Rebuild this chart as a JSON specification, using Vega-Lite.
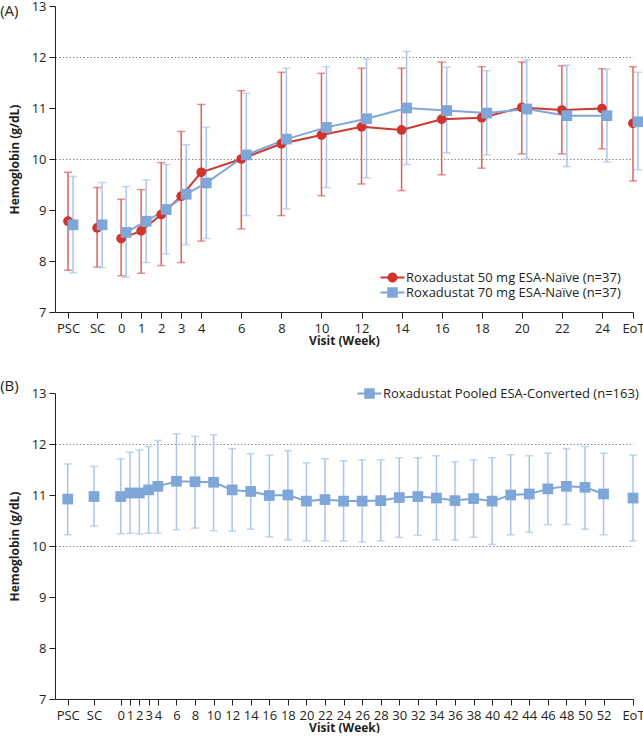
{
  "$schema": "https://vega.github.io/schema/vega-lite/v6.json",
  "padding": {"left": 0, "top": 0, "right": 0, "bottom": 0},
  "spacing": 33,
  "resolve": {"scale": {"color": "independent", "shape": "independent"}, "legend": {"color": "independent", "shape": "independent"}},
  "config": {
    "font": "Open Sans",
    "view": {"stroke": null},
    "axis": {"labelFont": "Open Sans", "labelFontSize": 13, "labelColor": "#231f20", "titleFont": "Open Sans", "titleFontSize": 12, "titleFontWeight": "bold", "titleColor": "#231f20", "domainColor": "#231f20", "tickColor": "#231f20", "domainWidth": 1, "tickWidth": 1, "labelFlush": false, "labelOverlap": false},
    "legend": {"labelFont": "Open Sans", "labelFontSize": 13, "labelColor": "#231f20", "labelLimit": 0},
    "title": {"font": "Open Sans", "fontSize": 15, "fontWeight": "normal", "color": "#231f20", "anchor": "start", "frame": "bounds"}
  },
  "datasets": {
    "naive": [
      {"series": "Roxadustat 50 mg ESA-Naïve (n=37)", "visit": "PSC", "x": -2.65, "mean": 8.78, "lo": 7.82, "hi": 9.74},
      {"series": "Roxadustat 50 mg ESA-Naïve (n=37)", "visit": "SC", "x": -1.2, "mean": 8.65, "lo": 7.88, "hi": 9.44},
      {"series": "Roxadustat 50 mg ESA-Naïve (n=37)", "visit": "0", "x": 0, "mean": 8.44, "lo": 7.71, "hi": 9.21},
      {"series": "Roxadustat 50 mg ESA-Naïve (n=37)", "visit": "1", "x": 1, "mean": 8.59, "lo": 7.76, "hi": 9.40},
      {"series": "Roxadustat 50 mg ESA-Naïve (n=37)", "visit": "2", "x": 2, "mean": 8.91, "lo": 7.91, "hi": 9.93},
      {"series": "Roxadustat 50 mg ESA-Naïve (n=37)", "visit": "3", "x": 3, "mean": 9.27, "lo": 7.97, "hi": 10.54},
      {"series": "Roxadustat 50 mg ESA-Naïve (n=37)", "visit": "4", "x": 4, "mean": 9.74, "lo": 8.39, "hi": 11.07},
      {"series": "Roxadustat 50 mg ESA-Naïve (n=37)", "visit": "6", "x": 6, "mean": 10.00, "lo": 8.63, "hi": 11.34},
      {"series": "Roxadustat 50 mg ESA-Naïve (n=37)", "visit": "8", "x": 8, "mean": 10.30, "lo": 8.89, "hi": 11.70},
      {"series": "Roxadustat 50 mg ESA-Naïve (n=37)", "visit": "10", "x": 10, "mean": 10.47, "lo": 9.28, "hi": 11.68},
      {"series": "Roxadustat 50 mg ESA-Naïve (n=37)", "visit": "12", "x": 12, "mean": 10.63, "lo": 9.51, "hi": 11.78},
      {"series": "Roxadustat 50 mg ESA-Naïve (n=37)", "visit": "14", "x": 14, "mean": 10.57, "lo": 9.38, "hi": 11.78},
      {"series": "Roxadustat 50 mg ESA-Naïve (n=37)", "visit": "16", "x": 16, "mean": 10.78, "lo": 9.69, "hi": 11.90},
      {"series": "Roxadustat 50 mg ESA-Naïve (n=37)", "visit": "18", "x": 18, "mean": 10.81, "lo": 9.82, "hi": 11.81},
      {"series": "Roxadustat 50 mg ESA-Naïve (n=37)", "visit": "20", "x": 20, "mean": 11.01, "lo": 10.10, "hi": 11.90},
      {"series": "Roxadustat 50 mg ESA-Naïve (n=37)", "visit": "22", "x": 22, "mean": 10.96, "lo": 10.10, "hi": 11.83},
      {"series": "Roxadustat 50 mg ESA-Naïve (n=37)", "visit": "24", "x": 24, "mean": 10.99, "lo": 10.20, "hi": 11.77},
      {"series": "Roxadustat 50 mg ESA-Naïve (n=37)", "visit": "EoT", "x": 25.55, "mean": 10.70, "lo": 9.57, "hi": 11.81},
      {"series": "Roxadustat 70 mg ESA-Naïve (n=37)", "visit": "PSC", "x": -2.65, "mean": 8.71, "lo": 7.77, "hi": 9.66},
      {"series": "Roxadustat 70 mg ESA-Naïve (n=37)", "visit": "SC", "x": -1.2, "mean": 8.71, "lo": 7.87, "hi": 9.54},
      {"series": "Roxadustat 70 mg ESA-Naïve (n=37)", "visit": "0", "x": 0, "mean": 8.56, "lo": 7.68, "hi": 9.46},
      {"series": "Roxadustat 70 mg ESA-Naïve (n=37)", "visit": "1", "x": 1, "mean": 8.78, "lo": 7.97, "hi": 9.59},
      {"series": "Roxadustat 70 mg ESA-Naïve (n=37)", "visit": "2", "x": 2, "mean": 9.01, "lo": 8.14, "hi": 9.89},
      {"series": "Roxadustat 70 mg ESA-Naïve (n=37)", "visit": "3", "x": 3, "mean": 9.31, "lo": 8.32, "hi": 10.28},
      {"series": "Roxadustat 70 mg ESA-Naïve (n=37)", "visit": "4", "x": 4, "mean": 9.53, "lo": 8.44, "hi": 10.62},
      {"series": "Roxadustat 70 mg ESA-Naïve (n=37)", "visit": "6", "x": 6, "mean": 10.08, "lo": 8.89, "hi": 11.29},
      {"series": "Roxadustat 70 mg ESA-Naïve (n=37)", "visit": "8", "x": 8, "mean": 10.39, "lo": 9.02, "hi": 11.78},
      {"series": "Roxadustat 70 mg ESA-Naïve (n=37)", "visit": "10", "x": 10, "mean": 10.62, "lo": 9.44, "hi": 11.81},
      {"series": "Roxadustat 70 mg ESA-Naïve (n=37)", "visit": "12", "x": 12, "mean": 10.79, "lo": 9.63, "hi": 11.96},
      {"series": "Roxadustat 70 mg ESA-Naïve (n=37)", "visit": "14", "x": 14, "mean": 11.00, "lo": 9.89, "hi": 12.11},
      {"series": "Roxadustat 70 mg ESA-Naïve (n=37)", "visit": "16", "x": 16, "mean": 10.95, "lo": 10.12, "hi": 11.80},
      {"series": "Roxadustat 70 mg ESA-Naïve (n=37)", "visit": "18", "x": 18, "mean": 10.90, "lo": 10.08, "hi": 11.73},
      {"series": "Roxadustat 70 mg ESA-Naïve (n=37)", "visit": "20", "x": 20, "mean": 10.98, "lo": 10.00, "hi": 11.94},
      {"series": "Roxadustat 70 mg ESA-Naïve (n=37)", "visit": "22", "x": 22, "mean": 10.85, "lo": 9.85, "hi": 11.84},
      {"series": "Roxadustat 70 mg ESA-Naïve (n=37)", "visit": "24", "x": 24, "mean": 10.85, "lo": 9.94, "hi": 11.76},
      {"series": "Roxadustat 70 mg ESA-Naïve (n=37)", "visit": "EoT", "x": 25.55, "mean": 10.73, "lo": 9.79, "hi": 11.70}
    ],
    "converted": [
      {"series": "Roxadustat Pooled ESA-Converted (n=163)", "visit": "PSC", "x": -5.71, "mean": 10.92, "lo": 10.22, "hi": 11.61},
      {"series": "Roxadustat Pooled ESA-Converted (n=163)", "visit": "SC", "x": -2.88, "mean": 10.97, "lo": 10.39, "hi": 11.56},
      {"series": "Roxadustat Pooled ESA-Converted (n=163)", "visit": "0", "x": 0, "mean": 10.97, "lo": 10.24, "hi": 11.71},
      {"series": "Roxadustat Pooled ESA-Converted (n=163)", "visit": "1", "x": 1, "mean": 11.04, "lo": 10.25, "hi": 11.84},
      {"series": "Roxadustat Pooled ESA-Converted (n=163)", "visit": "2", "x": 2, "mean": 11.04, "lo": 10.24, "hi": 11.88},
      {"series": "Roxadustat Pooled ESA-Converted (n=163)", "visit": "3", "x": 3, "mean": 11.10, "lo": 10.25, "hi": 11.95},
      {"series": "Roxadustat Pooled ESA-Converted (n=163)", "visit": "4", "x": 4, "mean": 11.17, "lo": 10.25, "hi": 12.07},
      {"series": "Roxadustat Pooled ESA-Converted (n=163)", "visit": "6", "x": 6, "mean": 11.27, "lo": 10.32, "hi": 12.20},
      {"series": "Roxadustat Pooled ESA-Converted (n=163)", "visit": "8", "x": 8, "mean": 11.26, "lo": 10.35, "hi": 12.15},
      {"series": "Roxadustat Pooled ESA-Converted (n=163)", "visit": "10", "x": 10, "mean": 11.25, "lo": 10.30, "hi": 12.18},
      {"series": "Roxadustat Pooled ESA-Converted (n=163)", "visit": "12", "x": 12, "mean": 11.10, "lo": 10.29, "hi": 11.91},
      {"series": "Roxadustat Pooled ESA-Converted (n=163)", "visit": "14", "x": 14, "mean": 11.07, "lo": 10.33, "hi": 11.81},
      {"series": "Roxadustat Pooled ESA-Converted (n=163)", "visit": "16", "x": 16, "mean": 10.99, "lo": 10.18, "hi": 11.78},
      {"series": "Roxadustat Pooled ESA-Converted (n=163)", "visit": "18", "x": 18, "mean": 11.00, "lo": 10.12, "hi": 11.87},
      {"series": "Roxadustat Pooled ESA-Converted (n=163)", "visit": "20", "x": 20, "mean": 10.88, "lo": 10.10, "hi": 11.63},
      {"series": "Roxadustat Pooled ESA-Converted (n=163)", "visit": "22", "x": 22, "mean": 10.91, "lo": 10.10, "hi": 11.71},
      {"series": "Roxadustat Pooled ESA-Converted (n=163)", "visit": "24", "x": 24, "mean": 10.88, "lo": 10.10, "hi": 11.67},
      {"series": "Roxadustat Pooled ESA-Converted (n=163)", "visit": "26", "x": 26, "mean": 10.88, "lo": 10.08, "hi": 11.69},
      {"series": "Roxadustat Pooled ESA-Converted (n=163)", "visit": "28", "x": 28, "mean": 10.89, "lo": 10.10, "hi": 11.69},
      {"series": "Roxadustat Pooled ESA-Converted (n=163)", "visit": "30", "x": 30, "mean": 10.95, "lo": 10.17, "hi": 11.73},
      {"series": "Roxadustat Pooled ESA-Converted (n=163)", "visit": "32", "x": 32, "mean": 10.97, "lo": 10.21, "hi": 11.73},
      {"series": "Roxadustat Pooled ESA-Converted (n=163)", "visit": "34", "x": 34, "mean": 10.94, "lo": 10.12, "hi": 11.77},
      {"series": "Roxadustat Pooled ESA-Converted (n=163)", "visit": "36", "x": 36, "mean": 10.89, "lo": 10.12, "hi": 11.65},
      {"series": "Roxadustat Pooled ESA-Converted (n=163)", "visit": "38", "x": 38, "mean": 10.93, "lo": 10.17, "hi": 11.69},
      {"series": "Roxadustat Pooled ESA-Converted (n=163)", "visit": "40", "x": 40, "mean": 10.88, "lo": 10.03, "hi": 11.73},
      {"series": "Roxadustat Pooled ESA-Converted (n=163)", "visit": "42", "x": 42, "mean": 11.00, "lo": 10.22, "hi": 11.79},
      {"series": "Roxadustat Pooled ESA-Converted (n=163)", "visit": "44", "x": 44, "mean": 11.02, "lo": 10.27, "hi": 11.77},
      {"series": "Roxadustat Pooled ESA-Converted (n=163)", "visit": "46", "x": 46, "mean": 11.12, "lo": 10.42, "hi": 11.82},
      {"series": "Roxadustat Pooled ESA-Converted (n=163)", "visit": "48", "x": 48, "mean": 11.17, "lo": 10.42, "hi": 11.91},
      {"series": "Roxadustat Pooled ESA-Converted (n=163)", "visit": "50", "x": 50, "mean": 11.15, "lo": 10.33, "hi": 11.95},
      {"series": "Roxadustat Pooled ESA-Converted (n=163)", "visit": "52", "x": 52, "mean": 11.02, "lo": 10.22, "hi": 11.82},
      {"series": "Roxadustat Pooled ESA-Converted (n=163)", "visit": "EoT", "x": 55.17, "mean": 10.94, "lo": 10.10, "hi": 11.78}
    ]
  },
  "vconcat": [
    {
      "width": 578,
      "height": 306,
      "title": {"text": "(A)", "dx": -8, "dy": 23},
      "data": {"name": "naive"},
      "encoding": {
        "x": {"field": "x", "type": "quantitative", "scale": {"domain": [-3.3, 25.55], "nice": false, "zero": false},
          "axis": {"title": "Visit (Week)", "values": [-2.65, -1.2, 0, 1, 2, 3, 4, 6, 8, 10, 12, 14, 16, 18, 20, 22, 24, 25.55], "labelExpr": "datum.value == -2.65 ? 'PSC' : datum.value == -1.2 ? 'SC' : datum.value == 25.55 ? 'EoT' : format(datum.value, 'd')", "tickSize": 6, "labelPadding": 4, "titlePadding": 0, "grid": false}}
      },
      "layer": [
        {"transform": [{"filter": "indexof(datum.series, '50 mg') >= 0"}], "mark": {"type": "rule", "color": "#e0605a", "strokeWidth": 1.5},
         "encoding": {"y": {"field": "lo", "type": "quantitative", "scale": {"domain": [7, 13], "nice": false, "zero": false}, "axis": {"title": "Hemoglobin (g/dL)", "values": [7, 8, 9, 10, 11, 12, 13], "tickSize": 6, "labelPadding": 3, "titlePadding": 10, "grid": true, "gridDash": [1.5, 2], "gridColor": "#8a8a8a", "gridOpacity": {"condition": {"test": "datum.value == 10 || datum.value == 12", "value": 1}, "value": 0}}}, "y2": {"field": "hi"}}},
        {"transform": [{"filter": "indexof(datum.series, '50 mg') >= 0"}], "mark": {"type": "tick", "orient": "horizontal", "color": "#e0605a", "size": 8, "thickness": 1.5},
         "encoding": {"y": {"field": "lo", "type": "quantitative", "axis": {"title": "Hemoglobin (g/dL)"}}}},
        {"transform": [{"filter": "indexof(datum.series, '50 mg') >= 0"}], "mark": {"type": "tick", "orient": "horizontal", "color": "#e0605a", "size": 8, "thickness": 1.5},
         "encoding": {"y": {"field": "hi", "type": "quantitative", "axis": {"title": "Hemoglobin (g/dL)"}}}},
        {"transform": [{"filter": "indexof(datum.series, '70 mg') >= 0"}], "mark": {"type": "rule", "color": "#a8c4ea", "strokeWidth": 1.5, "xOffset": 5},
         "encoding": {"y": {"field": "lo", "type": "quantitative", "axis": {"title": "Hemoglobin (g/dL)"}}, "y2": {"field": "hi"}}},
        {"transform": [{"filter": "indexof(datum.series, '70 mg') >= 0"}], "mark": {"type": "tick", "orient": "horizontal", "color": "#a8c4ea", "size": 8, "thickness": 1.5, "xOffset": 5},
         "encoding": {"y": {"field": "lo", "type": "quantitative", "axis": {"title": "Hemoglobin (g/dL)"}}}},
        {"transform": [{"filter": "indexof(datum.series, '70 mg') >= 0"}], "mark": {"type": "tick", "orient": "horizontal", "color": "#a8c4ea", "size": 8, "thickness": 1.5, "xOffset": 5},
         "encoding": {"y": {"field": "hi", "type": "quantitative", "axis": {"title": "Hemoglobin (g/dL)"}}}},
        {"transform": [{"filter": "indexof(datum.series, '50 mg') >= 0 && indexof(['PSC', 'SC', 'EoT'], datum.visit) < 0"}], "mark": {"type": "line", "color": "#cc3a30", "strokeWidth": 2},
         "encoding": {"y": {"field": "mean", "type": "quantitative", "axis": {"title": "Hemoglobin (g/dL)"}}}},
        {"transform": [{"filter": "indexof(datum.series, '70 mg') >= 0 && indexof(['PSC', 'SC', 'EoT'], datum.visit) < 0"}], "mark": {"type": "line", "color": "#7fa6d9", "strokeWidth": 2, "xOffset": 5},
         "encoding": {"y": {"field": "mean", "type": "quantitative", "axis": {"title": "Hemoglobin (g/dL)"}}}},
        {"mark": {"type": "point", "filled": true, "opacity": 0, "size": 10},
         "encoding": {"y": {"field": "mean", "type": "quantitative", "axis": {"title": "Hemoglobin (g/dL)"}},
           "color": {"field": "series", "type": "nominal", "scale": {"domain": ["Roxadustat 50 mg ESA-Naïve (n=37)", "Roxadustat 70 mg ESA-Naïve (n=37)"], "range": ["#d0342c", "#7fa6d9"]},
             "legend": {"title": null, "orient": "bottom-right", "offset": 12, "padding": 0, "symbolSize": 144, "labelOffset": 13, "rowPadding": 1, "symbolStrokeWidth": 0, "symbolOpacity": 1}},
           "shape": {"field": "series", "type": "nominal", "scale": {"domain": ["Roxadustat 50 mg ESA-Naïve (n=37)", "Roxadustat 70 mg ESA-Naïve (n=37)"], "range": ["M-1,-0.17L3,-0.17L3,0.17L-1,0.17Z M0.17,0A0.83,0.83 0 1 1 1.83,0A0.83,0.83 0 1 1 0.17,0Z", "M-1,-0.17L3,-0.17L3,0.17L-1,0.17Z M0.12,-0.88L1.88,-0.88L1.88,0.88L0.12,0.88Z"]},
             "legend": {"title": null, "orient": "bottom-right", "offset": 12, "padding": 0, "symbolSize": 144, "labelOffset": 13, "rowPadding": 1, "symbolStrokeWidth": 0, "symbolOpacity": 1}}}},
        {"transform": [{"filter": "indexof(datum.series, '50 mg') >= 0"}], "mark": {"type": "point", "filled": true, "shape": "circle", "size": 95, "opacity": 1},
         "encoding": {"y": {"field": "mean", "type": "quantitative", "axis": {"title": "Hemoglobin (g/dL)"}},
           "color": {"field": "series", "type": "nominal"}}},
        {"transform": [{"filter": "indexof(datum.series, '70 mg') >= 0"}], "mark": {"type": "point", "filled": true, "shape": "square", "size": 115, "opacity": 1, "xOffset": 5},
         "encoding": {"y": {"field": "mean", "type": "quantitative", "axis": {"title": "Hemoglobin (g/dL)"}},
           "color": {"field": "series", "type": "nominal"}}}
      ]
    },
    {
      "width": 578,
      "height": 306,
      "title": {"text": "(B)", "dx": -8, "dy": 11},
      "data": {"name": "converted"},
      "encoding": {
        "x": {"field": "x", "type": "quantitative", "scale": {"domain": [-7.08, 55.17], "nice": false, "zero": false},
          "axis": {"title": "Visit (Week)", "values": [-5.71, -2.88, 0, 1, 2, 3, 4, 6, 8, 10, 12, 14, 16, 18, 20, 22, 24, 26, 28, 30, 32, 34, 36, 38, 40, 42, 44, 46, 48, 50, 52, 55.17], "labelExpr": "datum.value == -5.71 ? 'PSC' : datum.value == -2.88 ? 'SC' : datum.value == 55.17 ? 'EoT' : format(datum.value, 'd')", "tickSize": 6, "labelPadding": 4, "titlePadding": 0, "grid": false}}
      },
      "layer": [
        {"mark": {"type": "rule", "color": "#a8c4ea", "strokeWidth": 1.5},
         "encoding": {"y": {"field": "lo", "type": "quantitative", "scale": {"domain": [7, 13], "nice": false, "zero": false}, "axis": {"title": "Hemoglobin (g/dL)", "values": [7, 8, 9, 10, 11, 12, 13], "tickSize": 6, "labelPadding": 3, "titlePadding": 10, "grid": true, "gridDash": [1.5, 2], "gridColor": "#8a8a8a", "gridOpacity": {"condition": {"test": "datum.value == 10 || datum.value == 12", "value": 1}, "value": 0}}}, "y2": {"field": "hi"}}},
        {"mark": {"type": "tick", "orient": "horizontal", "color": "#a8c4ea", "size": 8, "thickness": 1.5},
         "encoding": {"y": {"field": "lo", "type": "quantitative", "axis": {"title": "Hemoglobin (g/dL)"}}}},
        {"mark": {"type": "tick", "orient": "horizontal", "color": "#a8c4ea", "size": 8, "thickness": 1.5},
         "encoding": {"y": {"field": "hi", "type": "quantitative", "axis": {"title": "Hemoglobin (g/dL)"}}}},
        {"transform": [{"filter": "indexof(['PSC', 'SC', 'EoT'], datum.visit) < 0"}], "mark": {"type": "line", "color": "#7fa6d9", "strokeWidth": 2},
         "encoding": {"y": {"field": "mean", "type": "quantitative", "axis": {"title": "Hemoglobin (g/dL)"}}}},
        {"mark": {"type": "point", "filled": true, "shape": "square", "size": 115, "opacity": 1},
         "encoding": {"y": {"field": "mean", "type": "quantitative", "axis": {"title": "Hemoglobin (g/dL)"}},
           "color": {"field": "series", "type": "nominal", "scale": {"range": ["#7fa6d9"]},
             "legend": {"title": null, "orient": "top-right", "offset": -6, "padding": 0, "symbolSize": 144, "labelOffset": 13, "symbolStrokeWidth": 0, "symbolOpacity": 1,
               "symbolType": "M-1,-0.17L3,-0.17L3,0.17L-1,0.17Z M0.12,-0.88L1.88,-0.88L1.88,0.88L0.12,0.88Z"}}}}
      ]
    }
  ]
}
